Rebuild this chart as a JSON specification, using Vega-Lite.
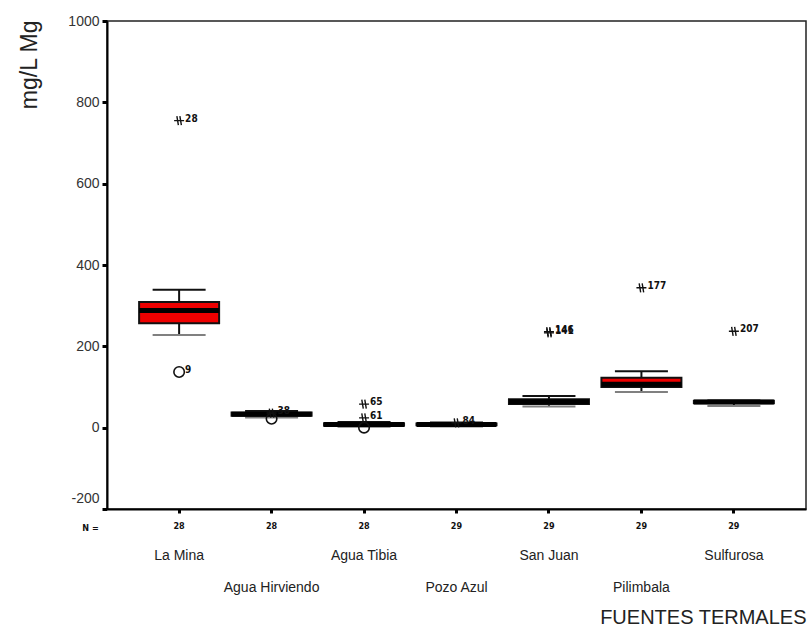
{
  "$schema": "https://vega.github.io/schema/vega-lite/v6.json",
  "width": 699,
  "height": 488,
  "autosize": "none",
  "padding": {"left": 107, "top": 21, "right": 3, "bottom": 122},
  "background": "#ffffff",
  "config": {
    "view": {"stroke": "#222222", "strokeWidth": 1.5},
    "font": "Liberation Sans"
  },
  "datasets": {
    "cajas": [
      {"fuente": "La Mina", "n": 28, "lo": 228, "q1": 257, "med": 288, "q3": 309, "hi": 339},
      {"fuente": "Agua Hirviendo", "n": 28, "lo": 25, "q1": 29, "med": 33, "q3": 37, "hi": 41},
      {"fuente": "Agua Tibia", "n": 28, "lo": 2, "q1": 5, "med": 8, "q3": 11, "hi": 14},
      {"fuente": "Pozo Azul", "n": 29, "lo": 3, "q1": 6, "med": 8, "q3": 10, "hi": 13},
      {"fuente": "San Juan", "n": 29, "lo": 52, "q1": 58, "med": 64, "q3": 70, "hi": 78},
      {"fuente": "Pilimbala", "n": 29, "lo": 88, "q1": 100, "med": 107, "q3": 123, "hi": 139},
      {"fuente": "Sulfurosa", "n": 29, "lo": 53, "q1": 60, "med": 63, "q3": 66, "hi": 67}
    ],
    "atipicos": [
      {"fuente": "La Mina", "valor": 755, "tipo": "extremo", "caso": "28"},
      {"fuente": "La Mina", "valor": 137, "tipo": "atipico", "caso": "9"},
      {"fuente": "Agua Hirviendo", "valor": 22, "tipo": "atipico", "caso": ""},
      {"fuente": "Agua Hirviendo", "valor": 36, "tipo": "extremo", "caso": "38"},
      {"fuente": "Agua Tibia", "valor": 58, "tipo": "extremo", "caso": "65"},
      {"fuente": "Agua Tibia", "valor": 24, "tipo": "extremo", "caso": "61"},
      {"fuente": "Agua Tibia", "valor": 0, "tipo": "atipico", "caso": ""},
      {"fuente": "Pozo Azul", "valor": 12, "tipo": "extremo", "caso": "84"},
      {"fuente": "San Juan", "valor": 236, "tipo": "extremo", "caso": "146"},
      {"fuente": "San Juan", "valor": 233, "tipo": "extremo", "caso": "141"},
      {"fuente": "Pilimbala", "valor": 344, "tipo": "extremo", "caso": "177"},
      {"fuente": "Sulfurosa", "valor": 237, "tipo": "extremo", "caso": "207"}
    ]
  },
  "resolve": {"axis": {"x": "independent"}},
  "layer": [
    {
      "data": {"name": "cajas"},
      "mark": {"type": "rule", "color": "#111111", "strokeWidth": 2},
      "encoding": {
        "x": {
          "field": "fuente", "type": "nominal",
          "sort": ["La Mina", "Agua Hirviendo", "Agua Tibia", "Pozo Azul", "San Juan", "Pilimbala", "Sulfurosa"],
          "scale": {"paddingOuter": 0.28, "paddingInner": 0},
          "axis": {
            "orient": "bottom",
            "domain": true, "domainColor": "#000000", "domainWidth": 2,
            "ticks": true, "tickColor": "#000000", "tickSize": 4, "tickWidth": 3,
            "labelExpr": "['28','28','28','29','29','29','29'][indexof(['La Mina','Agua Hirviendo','Agua Tibia','Pozo Azul','San Juan','Pilimbala','Sulfurosa'], datum.value)]",
            "labelAngle": 0, "labelFont": "DejaVu Sans Condensed, Liberation Sans", "labelFontSize": 9, "labelFontWeight": "bold",
            "labelColor": "#111111", "labelPadding": 8,
            "title": "N =", "titleFont": "DejaVu Sans Condensed, Liberation Sans", "titleFontSize": 9, "titleFontWeight": "bold",
            "titleColor": "#111111", "titleX": -17, "titleY": 18, "titleAlign": "center", "titleBaseline": "middle"
          }
        },
        "y": {
          "field": "lo", "type": "quantitative",
          "scale": {"domain": [-200, 1000], "nice": false, "zero": false},
          "axis": {
            "title": "mg/L Mg",
            "values": [-200, 0, 200, 400, 600, 800, 1000],
            "labelExpr": "datum.value + ''",
            "grid": false,
            "domainColor": "#000000", "domainWidth": 2,
            "tickColor": "#000000", "tickSize": 5, "tickWidth": 3,
            "labelFont": "Liberation Sans", "labelFontSize": 14, "labelColor": "#333333", "labelPadding": 3,
            "labelOffset": {"condition": {"test": "datum.value == -200", "value": -11}, "value": 0},
            "titleFont": "Liberation Sans", "titleFontSize": 23, "titleFontWeight": "normal", "titleColor": "#222222",
            "titleAngle": -90, "titleAlign": "right", "titleBaseline": "middle",
            "titleX": -78, "titleY": -1
          }
        },
        "y2": {"field": "hi"}
      }
    },
    {
      "data": {"name": "cajas"},
      "mark": {"type": "tick", "color": "#111111", "size": 53, "thickness": 2, "opacity": 1},
      "encoding": {
        "x": {"field": "fuente", "type": "nominal", "sort": ["La Mina", "Agua Hirviendo", "Agua Tibia", "Pozo Azul", "San Juan", "Pilimbala", "Sulfurosa"], "axis": null},
        "y": {"field": "hi", "type": "quantitative"}
      }
    },
    {
      "data": {"name": "cajas"},
      "mark": {"type": "tick", "color": "#808080", "size": 53, "thickness": 2, "opacity": 1},
      "encoding": {
        "x": {"field": "fuente", "type": "nominal", "sort": ["La Mina", "Agua Hirviendo", "Agua Tibia", "Pozo Azul", "San Juan", "Pilimbala", "Sulfurosa"], "axis": null},
        "y": {"field": "lo", "type": "quantitative"}
      }
    },
    {
      "data": {"name": "cajas"},
      "mark": {"type": "bar", "width": 80, "fill": "#ee0000", "stroke": "#111111", "strokeWidth": 2},
      "encoding": {
        "x": {
          "field": "fuente", "type": "nominal",
          "sort": ["La Mina", "Agua Hirviendo", "Agua Tibia", "Pozo Azul", "San Juan", "Pilimbala", "Sulfurosa"],
          "axis": {
            "orient": "bottom",
            "domain": false, "ticks": false, "tickSize": 0,
            "labelExpr": "indexof(['La Mina','Agua Hirviendo','Agua Tibia','Pozo Azul','San Juan','Pilimbala','Sulfurosa'], datum.value) % 2 == 0 ? datum.value : ['', datum.value]",
            "labelAngle": 0, "labelFont": "Liberation Sans", "labelFontSize": 14, "labelColor": "#222222",
            "labelPadding": 39, "labelLineHeight": 32, "labelBaseline": "top",
            "title": "FUENTES TERMALES", "titleFont": "Liberation Sans", "titleFontSize": 20, "titleFontWeight": "normal",
            "titleColor": "#222222", "titleAnchor": "end", "titleAlign": "right", "titleBaseline": "middle",
            "titleX": 699, "titleY": 108
          }
        },
        "y": {"field": "q1", "type": "quantitative"},
        "y2": {"field": "q3"}
      }
    },
    {
      "data": {"name": "cajas"},
      "mark": {"type": "tick", "color": "#000000", "size": 80, "thickness": 5, "opacity": 1},
      "encoding": {
        "x": {"field": "fuente", "type": "nominal", "sort": ["La Mina", "Agua Hirviendo", "Agua Tibia", "Pozo Azul", "San Juan", "Pilimbala", "Sulfurosa"], "axis": null},
        "y": {"field": "med", "type": "quantitative"}
      }
    },
    {
      "data": {"name": "atipicos"},
      "transform": [{"filter": "datum.tipo == 'atipico'"}],
      "mark": {"type": "point", "shape": "circle", "filled": false, "stroke": "#111111", "strokeWidth": 1.6, "size": 110, "opacity": 1},
      "encoding": {
        "x": {"field": "fuente", "type": "nominal", "sort": ["La Mina", "Agua Hirviendo", "Agua Tibia", "Pozo Azul", "San Juan", "Pilimbala", "Sulfurosa"], "axis": null},
        "y": {"field": "valor", "type": "quantitative"}
      }
    },
    {
      "data": {"name": "atipicos"},
      "transform": [{"filter": "datum.tipo == 'extremo'"}],
      "mark": {"type": "point", "shape": "M-1,0L1,0M-0.45,-0.9L-0.15,0.9M0.15,-0.9L0.45,0.9", "filled": false, "stroke": "#111111", "strokeWidth": 1.4, "size": 100, "opacity": 1},
      "encoding": {
        "x": {"field": "fuente", "type": "nominal", "sort": ["La Mina", "Agua Hirviendo", "Agua Tibia", "Pozo Azul", "San Juan", "Pilimbala", "Sulfurosa"], "axis": null},
        "y": {"field": "valor", "type": "quantitative"}
      }
    },
    {
      "data": {"name": "atipicos"},
      "mark": {"type": "text", "align": "left", "baseline": "middle", "dx": 6, "dy": -2, "font": "DejaVu Sans Condensed, Liberation Sans", "fontSize": 10, "fontWeight": "bold", "color": "#111111"},
      "encoding": {
        "x": {"field": "fuente", "type": "nominal", "sort": ["La Mina", "Agua Hirviendo", "Agua Tibia", "Pozo Azul", "San Juan", "Pilimbala", "Sulfurosa"], "axis": null},
        "y": {"field": "valor", "type": "quantitative"},
        "text": {"field": "caso"}
      }
    }
  ]
}
